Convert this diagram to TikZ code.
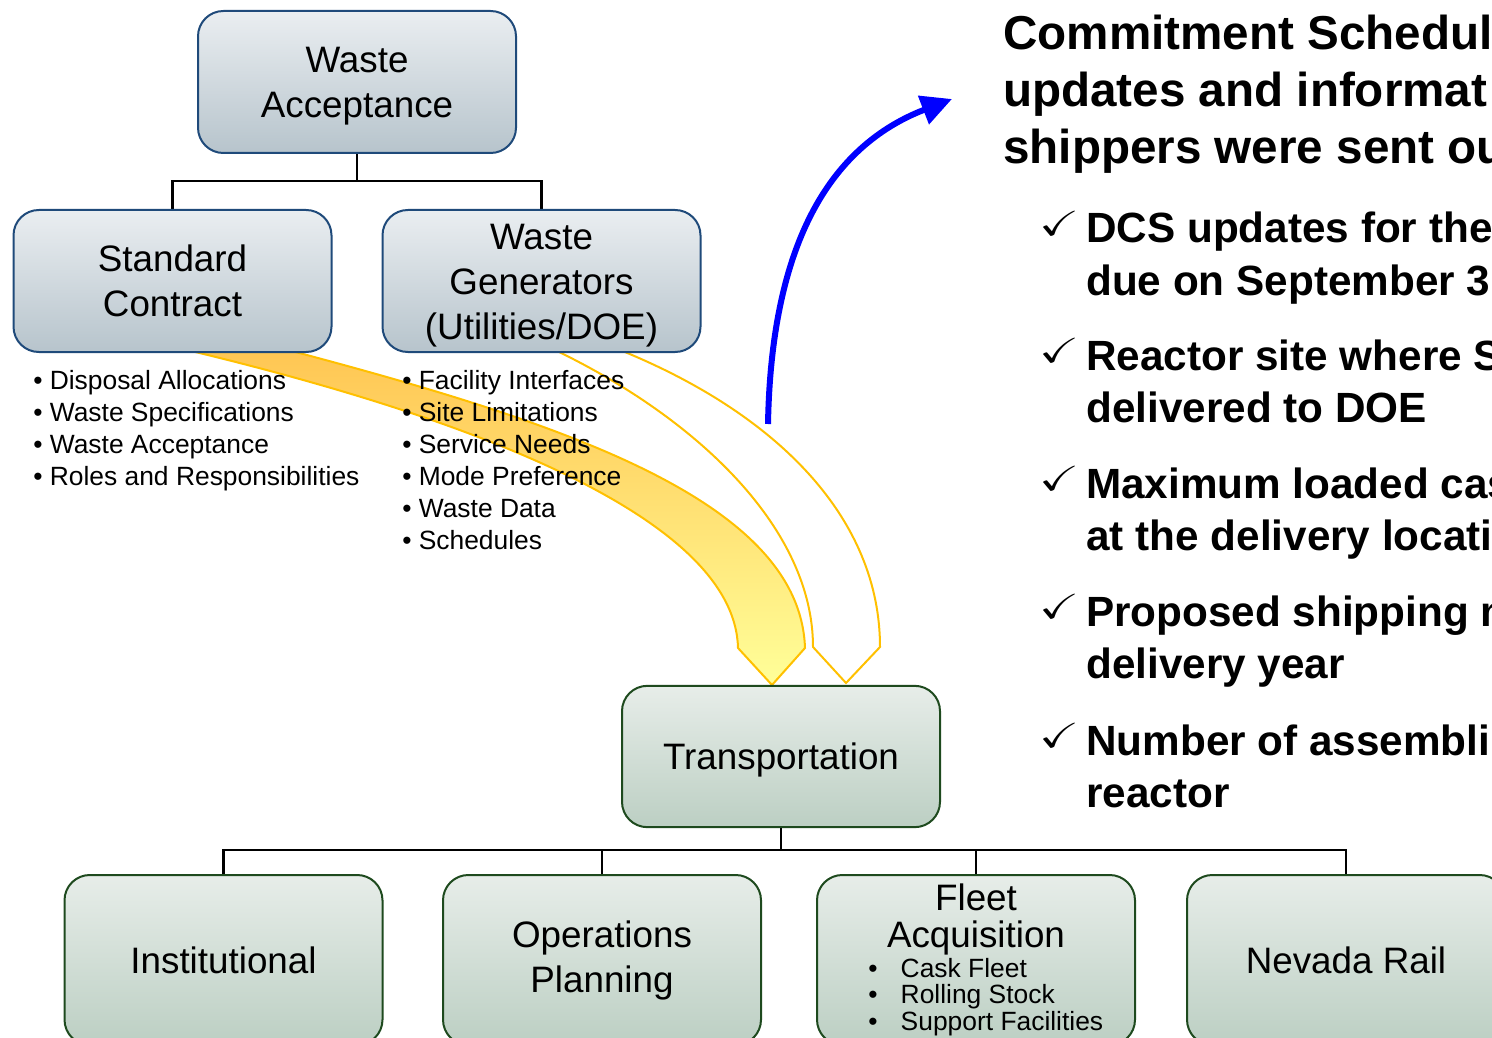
\documentclass[tikz,border=0pt]{standalone}
\usepackage{fontspec}
\setmainfont{Liberation Sans}
\usepackage{amssymb}
\usetikzlibrary{arrows.meta}

\definecolor{wabord}{HTML}{1F4A7A}
\definecolor{watop}{HTML}{EAEEF1}
\definecolor{wabot}{HTML}{B7C4CC}
\definecolor{trbord}{HTML}{1E4A1E}
\definecolor{trtop}{HTML}{E7EDE9}
\definecolor{trbot}{HTML}{BCCFC3}
\definecolor{goldline}{HTML}{FFC000}
\definecolor{goldtop}{HTML}{FFC653}
\definecolor{goldbot}{HTML}{FFFF99}

\newcommand{\boxtxt}{\fontsize{27.6}{33.75}\selectfont}
\newcommand{\bullettxt}{\fontsize{19.8}{24}\selectfont}
\newcommand{\headtxt}{\bfseries\fontsize{35.7}{43}\selectfont}
\newcommand{\itemtxt}{\bfseries\fontsize{31.7}{39}\selectfont}
% box label moved down a little, box size kept
\newcommand{\lowlbl}[1]{\raisebox{-3pt}[\height][\depth]{\begin{tabular}{@{}c@{}}#1\end{tabular}}}

\tikzset{
  bluebox/.style={draw=wabord, line width=1.5pt, rounded corners=19pt, top color=watop, bottom color=wabot,
    minimum width=238.5pt, minimum height=106.5pt, align=center, inner sep=0pt, font=\boxtxt},
  greenbox/.style={draw=trbord, line width=1.5pt, rounded corners=19pt, top color=trtop, bottom color=trbot,
    minimum width=238.5pt, minimum height=127.5pt, align=center, inner sep=0pt, font=\boxtxt},
  orgline/.style={line width=2pt},
  listline/.style={anchor=base west, inner sep=0pt, font=\bullettxt},
}

\begin{document}
\begin{tikzpicture}[x=0.75pt,y=0.75pt,yscale=-1,xscale=1]
\clip (0,0) rectangle (1492,1038);

%Curve Lines: filled arrow from Standard Contract
\draw[draw=goldline, line width=1.5pt, top color=goldtop, bottom color=goldbot]
  (288,350) .. controls (560,422) and (800,500) .. (805,648) -- (772,685) -- (738,648)
  .. controls (735,520) and (480,420) .. (187,350) -- cycle;
%Curve Lines: open arrow from Waste Generators
\draw[draw=goldline, line width=1.5pt]
  (620,350) .. controls (780,415) and (880,520) .. (880,647) -- (846,683) -- (813,647)
  .. controls (813,530) and (700,420) .. (555,350);
%Curve Lines: blue arrow
\draw[blue, line width=4.5pt, -{Triangle[length=23pt,width=22pt]}]
  (768,424) .. controls (771,260) and (820,150) .. (952,99);

%Straight Lines
\coordinate (wabus) at (357,181);
\coordinate (trbus) at (781,850);
\draw[orgline] (357,150) -- (wabus);
\draw[orgline] (172.5,215) |- (wabus) -| (541.5,215);

%Shape: Rounded Rectangle
\node[bluebox] (wa) at (357,82) {\lowlbl{Waste\\Acceptance}};
\node[bluebox] (sc) at (172.5,281) {\lowlbl{Standard\\Contract}};
\node[bluebox] (wg) at (541.5,281) {\lowlbl{Waste\\Generators\\(Utilities/DOE)}};
\node[greenbox, minimum height=106pt] (tr) at (781,756.5) {\lowlbl{Transportation}};

\draw[orgline] (tr.south) -- (trbus);

\node[greenbox] (inst) at (223.5,960) {Institutional};
\node[greenbox] (op) at (602,960) {Operations\\Planning};
\node[greenbox] (fa) at (976,960) {};
\node[greenbox] (nr) at (1346,960) {Nevada Rail};

\draw[orgline] (inst.north) |- (trbus) -| (nr.north);
\draw[orgline] (op.north) -- (op.north |- trbus);
\draw[orgline] (fa.north) -- (fa.north |- trbus);

% Text Node
\node[anchor=base, inner sep=0pt, font=\boxtxt] (fa1) at (976,910) {Fleet};
\node[anchor=base, inner sep=0pt, font=\boxtxt] (fa2) at (976,947) {Acquisition};
\foreach \y/\t [count=\i] in {977/Cask Fleet,1003/Rolling Stock,1030/Support Facilities}
  \node[listline] (fab\i) at (868,\y) {\textbullet\hspace{0.88em}\t};

% Text Node
\foreach \y/\t [count=\i] in {389/Disposal Allocations,421/Waste Specifications,453/Waste Acceptance,485/Roles and Responsibilities}
  \node[listline] (scl\i) at (33,\y) {\textbullet\ \t};
\foreach \y/\t [count=\i] in {389/Facility Interfaces,421/Site Limitations,453/Service Needs,485/Mode Preference,517/Waste Data,549/Schedules}
  \node[listline] (wgl\i) at (402,\y) {\textbullet\ \t};

% Text Node
\node[anchor=base west, inner sep=0pt, font=\headtxt] (hd1) at (1003,50) {Commitment Schedul};
\node[anchor=base west, inner sep=0pt, font=\headtxt] (hd2) at (1003,107) {updates and informat};
\node[anchor=base west, inner sep=0pt, font=\headtxt] (hd3) at (1003,164) {shippers were sent ou};

% Text Node
\foreach \y/\ta/\tb [count=\i] in {243/DCS updates for the/due on September 3,
    370/Reactor site where S/delivered to DOE,
    498/Maximum loaded cas/at the delivery locati,
    626/Proposed shipping m/delivery year,
    755/Number of assembli/reactor}
{
  \node[anchor=base west, inner sep=0pt, font=\fontsize{24.88}{30}\selectfont] (ck\i) at (1039,\y-8) {\scalebox{1.45}[1.05]{$\checkmark$}};
  \node[anchor=base west, inner sep=0pt, font=\itemtxt] (ita\i) at (1086,\y) {\ta};
  \node[anchor=base west, inner sep=0pt, font=\itemtxt] (itb\i) at (1086,\y+52) {\tb};
}
\end{tikzpicture}
\end{document}
